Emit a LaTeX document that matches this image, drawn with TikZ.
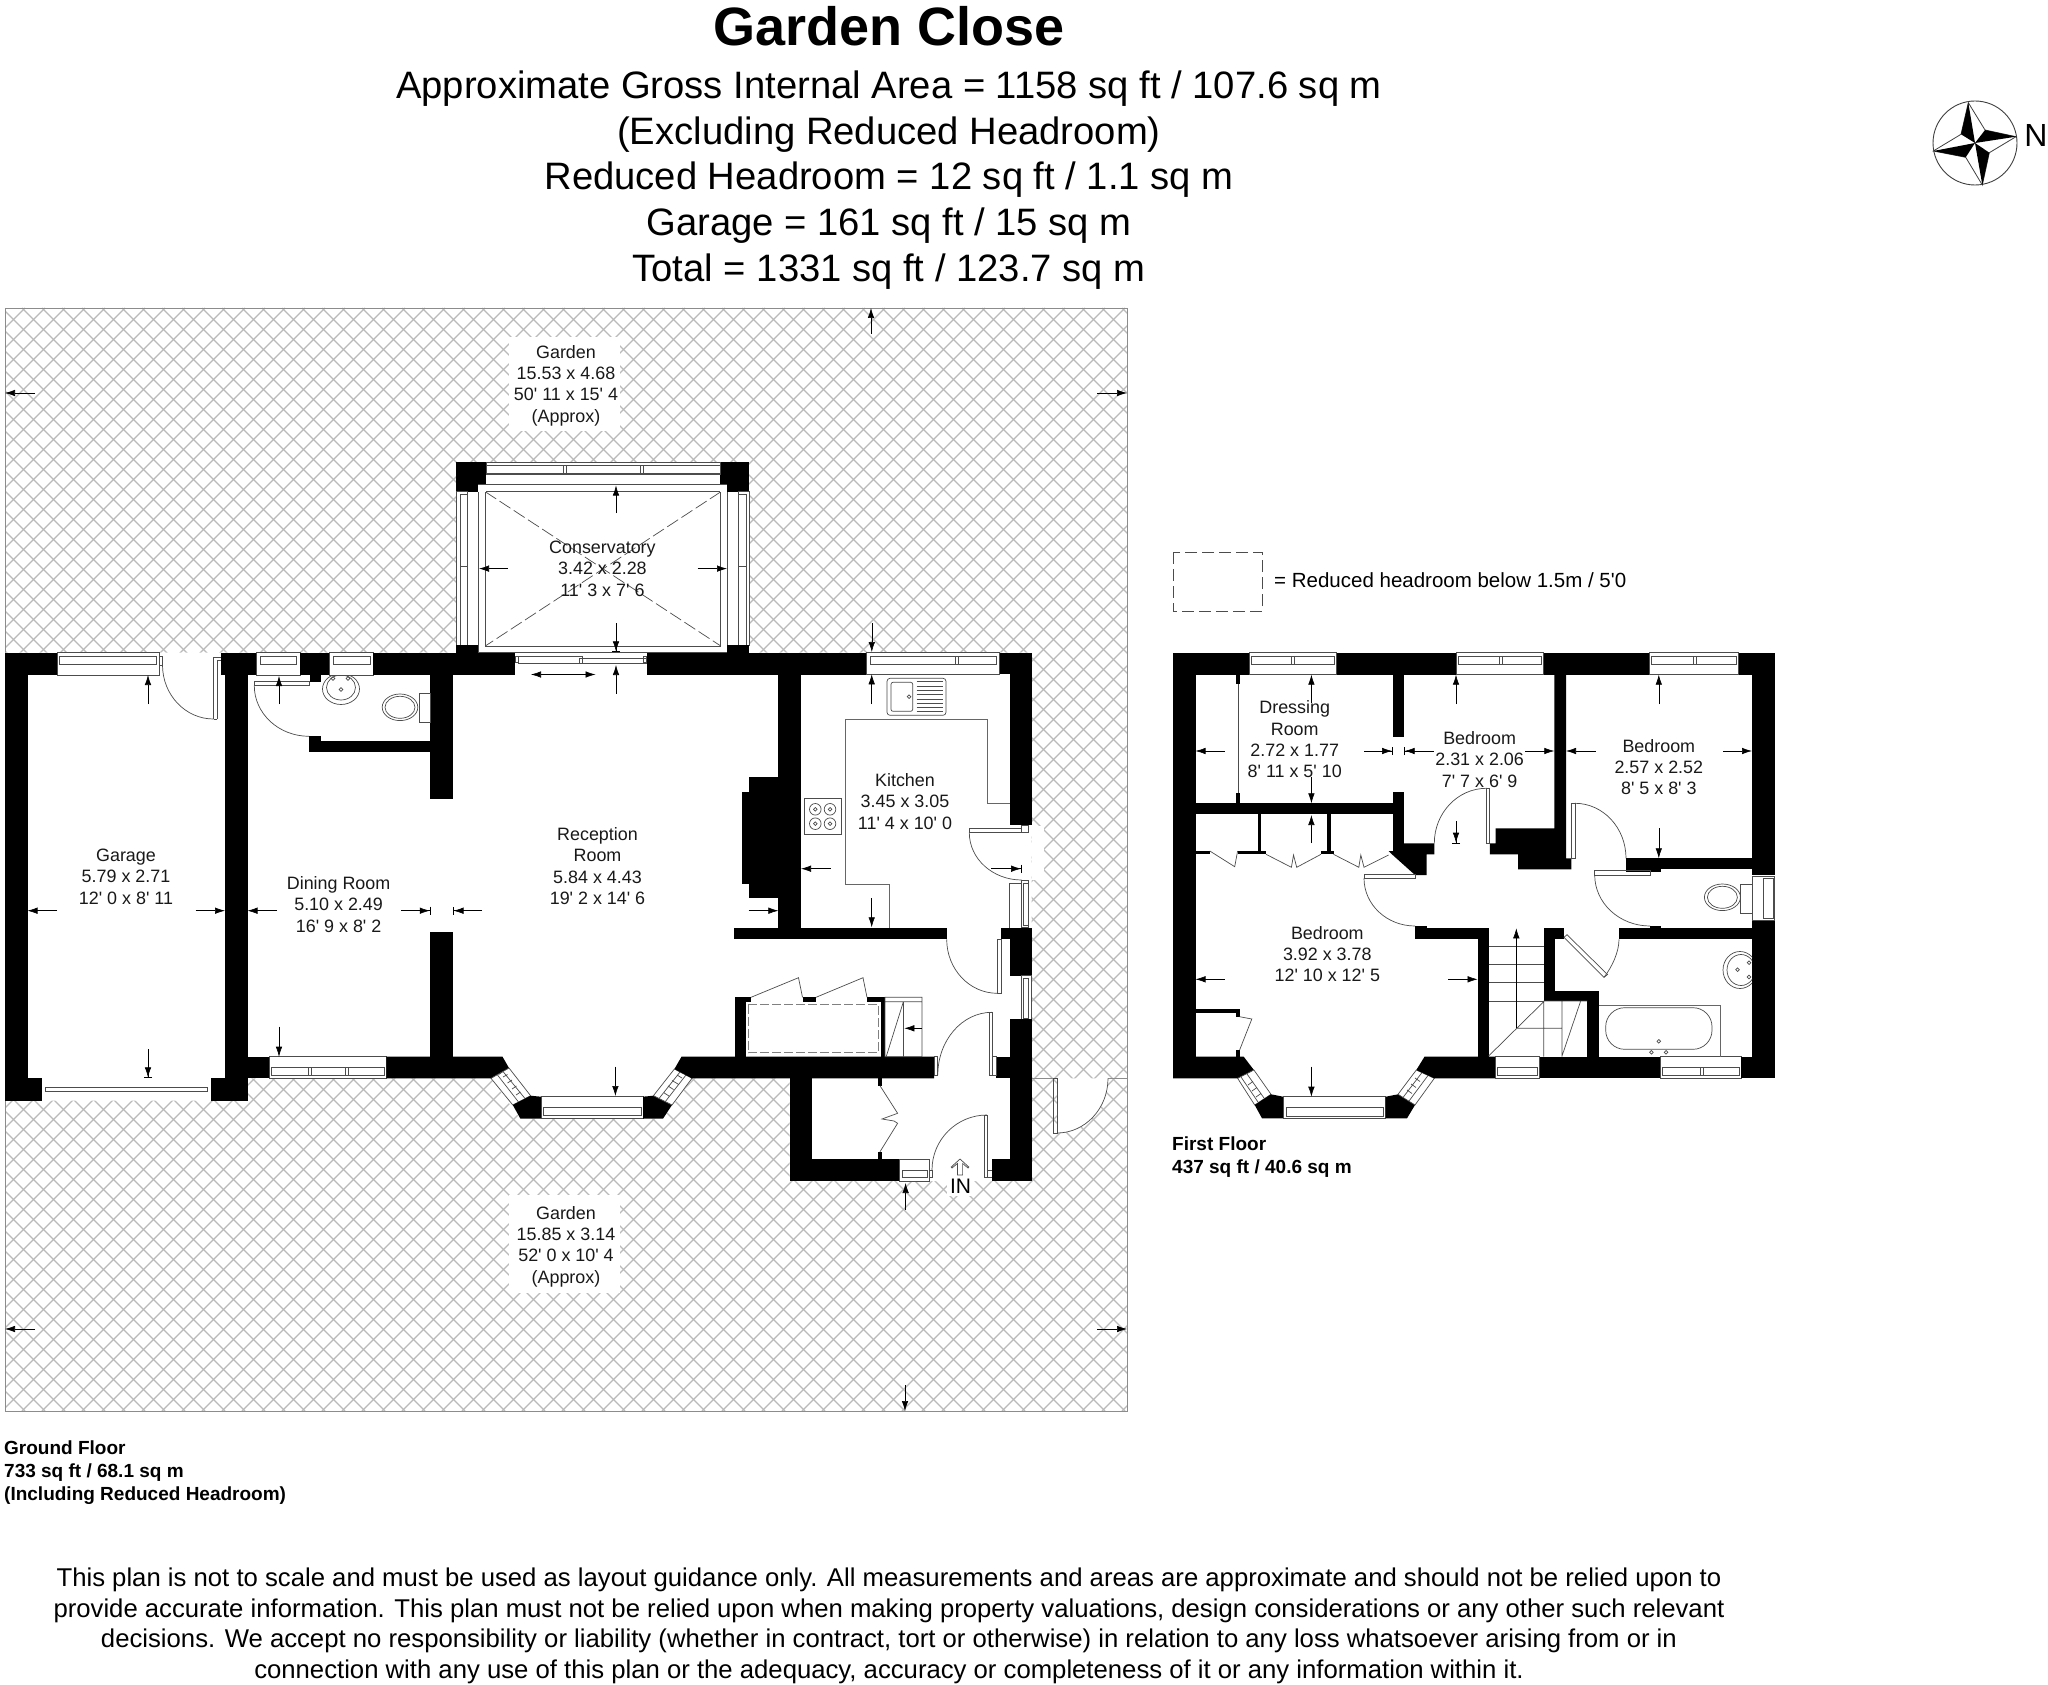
\documentclass[tikz,border=0pt]{standalone}
\usepackage{fontspec}
\usetikzlibrary{arrows.meta,calc}
\newfontfamily\planfont{Liberation Sans}
\newcommand{\qa}[4]{(#1,#2) .. controls ($(#1,#2)!0.5523!(#1,#4)$) and ($(#3,#4)!0.5523!(#1,#4)$) .. (#3,#4)}
\tikzset{
 wall/.style={fill=black,draw=none},
 fine/.style={draw=black!70,line width=0.7pt},
 work/.style={draw=black!60,line width=0.8pt},
 hatchline/.style={draw=black!27,line width=1.2pt},
 dimarrow/.style={draw=black,line width=0.6pt,-{Latex[length=10pt,width=6.5pt]}},
 dimbar/.style={draw=black,line width=0.6pt,-{Latex[length=10pt,width=6.5pt]Bar[width=8pt,line width=0.6pt]}},
 lbl/.style={inner sep=0pt,align=center,font=\planfont\fontsize{17.9}{21.3}\selectfont,text=black!90},
 head/.style={inner sep=0pt,align=center,font=\planfont\fontsize{38.2}{45}\selectfont},
 note/.style={inner sep=0pt,align=center,font=\planfont\fontsize{25.7}{30.6}\selectfont},
 captxt/.style={inner sep=0pt,align=left,font=\planfont\bfseries\fontsize{19}{23}\selectfont},
}
\begin{document}
\begin{tikzpicture}[x=1pt,y=-1pt]
\useasboundingbox (0,0) rectangle (2048,1685);
\fill[white] (0,0) rectangle (2048,1685);
% garden hatch
\begin{scope}
\clip (5,308) rectangle (1127,1411);
\foreach \c in {313,333,...,2540}{\draw[hatchline] ({\c-308},308) -- ({\c-1411},1411);}
\foreach \c in {-1406,-1386,...,820}{\draw[hatchline] ({\c+308},308) -- ({\c+1411},1411);}
\end{scope}
\draw[draw=black!45,line width=0.9pt] (5,308) rectangle (1127,1411);
% white knock-outs
\fill[white] (509,337) rectangle (620,431);
\fill[white] (509,1195) rectangle (620,1293);
\fill[white] (947,1181) rectangle (974,1196);
\fill[white] (5.4,652.7) -- (1031.7,652.7) -- (1031.7,1181) -- (789.5,1181) -- (789.5,1078.3) -- (692,1078.3) -- (663,1118.7) -- (520.4,1118.7) -- (491,1078.3) -- (247.5,1078.3) -- (247.5,1100.7) -- (5.4,1100.7) -- cycle;
\fill[white] (456,462) rectangle (749.4,652.7);
\fill[white] (1031.7,826) rectangle (1044,880);
\draw[draw=black!45,line width=0.8pt] (1031.7,1078.3) -- (1053.8,1078.3) (1108,1078.3) -- (1127,1078.3);
% ===== GROUND FLOOR =====
% conservatory
\draw[fine] (478.4,484.6) rectangle (727,652.5);
\draw[fine] (485.3,491.8) rectangle (720.8,646);
\draw[fine,dash pattern=on 13pt off 4pt,draw=black!70] (485.3,491.8) -- (720.8,646);
\draw[fine,dash pattern=on 13pt off 4pt,draw=black!70] (720.8,491.8) -- (485.3,646);
\fill[wall] (456,462) rectangle (486,491.8);
\fill[wall] (720,462) rectangle (749.4,491.8);
\fill[white] (478.4,484.6) rectangle (486,491.8);
\fill[white] (720,484.6) rectangle (727,491.8);
\draw[fine] (478.4,484.6) -- (727,484.6);
\draw[fine] (486,462) rectangle (720,474);
\draw[fine] (486,465.7) rectangle (720,472.9);
\draw[fine] (563.7,465.7) -- (563.7,472.9) (566.2,465.7) -- (566.2,472.9) (640.4,465.7) -- (640.4,472.9) (643.3,465.7) -- (643.3,472.9);
\draw[fine] (456,491.8) rectangle (467,645.4);
\draw[fine] (460,494) rectangle (467,645.4) (460,566.8) -- (467,566.8);
\draw[fine] (738.4,491.8) rectangle (749.4,645.4);
\draw[fine] (738.4,494) rectangle (746.5,645.4) (738.4,566.8) -- (746.5,566.8);
\fill[wall] (456,645.4) rectangle (478.4,653);
\fill[wall] (727,645.4) rectangle (749.4,653);
% garage
\fill[wall] (5.4,652.7) rectangle (27.5,1100.7);
\fill[wall] (5.4,652.7) rectangle (57,675);
\fill[wall] (27.5,1078.3) rectangle (42,1100.7);
\fill[wall] (210.7,1078.3) rectangle (247.5,1100.7);
\fill[wall] (225,652.7) rectangle (247.5,1100.7);
\fill[wall] (221.4,652.7) rectangle (256.4,675);
\draw[fine] (45,1087) rectangle (207,1091.7);
\draw[fine] (57,652.7) rectangle (159.6,675);
\draw[fine] (59,656) rectangle (156,664);
\draw[fine] (159.6,656) rectangle (162.5,665);
\draw[fine] (213.5,719) -- (213.5,657) -- (221,657) (217,719) -- (217,660) -- (221,660) (213.5,719) -- (217,719);
\draw[fine] \qa{162.5}{665}{213.5}{719};
% WC
\draw[fine] (256.4,652.7) rectangle (300,675);
\draw[fine] (260.7,656) rectangle (296,664);
\draw[fine] (329.3,652.7) rectangle (373.2,675);
\draw[fine] (333,656) rectangle (370,664);
\fill[wall] (300,652.7) rectangle (329.3,675);
\fill[wall] (309.6,675) rectangle (320.7,681.7);
\fill[wall] (373.2,652.7) rectangle (515.4,675);
\fill[wall] (430.4,675) rectangle (452.9,799.3);
\fill[wall] (430.4,931.7) rectangle (452.9,1056.7);
\fill[wall] (309,740.7) rectangle (430.4,752.3);
\fill[wall] (309,736.3) rectangle (320.7,752.3);
\draw[fine] (254.3,681.7) rectangle (309.6,685.7);
\draw[fine] \qa{254.3}{685.7}{309}{736.3};
\begin{scope}
\clip (320,675) rectangle (362,710);
\draw[fine] (341,689) ellipse (18.5 and 15.5);
\draw[fine] (341,687.5) ellipse (14.5 and 12.5);
\end{scope}
\draw[fine] (333,678.5) circle (1.8) (348,678.5) circle (1.8) (341,689.5) circle (1.8);
\draw[fine] (400,707.3) ellipse (17.8 and 13.3);
\draw[fine] (400,707.3) ellipse (15 and 11);
\draw[fine] (419.6,693) rectangle (430.4,722.7);
% dining bottom, bay
\fill[wall] (247.5,1056.7) rectangle (269,1078.3);
\draw[fine] (269,1056.7) rectangle (386.4,1078.3);
\draw[fine] (271,1067.7) rectangle (384,1075);
\draw[fine] (308,1067.7) -- (308,1075) (311.5,1067.7) -- (311.5,1075) (345,1067.7) -- (345,1075) (348,1067.7) -- (348,1075);
\fill[wall] (386.4,1056.7) -- (502.5,1056.7) -- (509,1068) -- (491,1078.3) -- (386.4,1078.3) -- cycle;
\draw[fine] (509,1068) -- (530.6,1095.7) -- (512.8,1105) -- (491,1078.3) -- cycle;
\draw[fine] (503,1071.5) -- (525,1098.5) (497.5,1075) -- (518.5,1102) (499,1074.3) -- (503,1071.5) (503,1077) -- (507.5,1074.5) (507.5,1083) -- (512,1080) (512,1089) -- (516.5,1086) (516,1095) -- (520.5,1092);
\fill[wall] (530.6,1095.7) -- (541,1096.7) -- (541,1118.7) -- (520.4,1118.7) -- (512.8,1105) -- cycle;
\draw[fine] (541,1096.7) rectangle (643,1118.7);
\draw[fine] (543.6,1107.7) rectangle (641,1115);
\fill[wall] (643,1096.7) -- (653.4,1095.7) -- (672,1105) -- (663,1118.7) -- (643,1118.7) -- cycle;
\draw[fine] (653.4,1095.7) -- (674.4,1069) -- (692,1078.3) -- (672,1105) -- cycle;
\draw[fine] (659,1098.5) -- (680,1072) (665,1102) -- (686,1075) (663.5,1092.5) -- (669,1096) (668,1086) -- (673.5,1089.5) (672,1080.5) -- (678,1084) (677,1075) -- (682,1078);
\fill[wall] (674.4,1069) -- (681.5,1056.7) -- (934,1056.7) -- (934,1078.3) -- (692,1078.3) -- cycle;
% patio door
\draw[fine] (515.4,656) rectangle (518,662.7);
\draw[fine] (518,656) rectangle (582.4,663);
\draw[fine] (579,658) rectangle (646,663.8);
\draw[fine] (643,656) rectangle (646.5,662.7);
\fill[wall] (646.5,652.7) rectangle (867,675);
\draw[fine] (515.4,652.6) -- (646.5,652.6);
% kitchen
\fill[wall] (778.3,675) rectangle (801,928.3);
\fill[wall] (749.3,777.3) rectangle (778.3,898.3);
\fill[wall] (742.3,792.3) rectangle (749.3,884.3);
\fill[wall] (734.3,927.7) rectangle (946.7,939.3);
\fill[wall] (999,652.7) rectangle (1031.7,674.3);
\fill[wall] (1010,652.7) rectangle (1031.7,825);
\draw[fine] (866.7,652.7) rectangle (999,674.3);
\draw[fine] (870,656.7) rectangle (996.7,664.3);
\draw[fine] (955,656.7) -- (955,664.3) (958,656.7) -- (958,664.3);
\draw[work] (1010,803.3) -- (987.7,803.3) -- (987.7,719) -- (845,719) -- (845,884) -- (889,884) -- (889,927.7);
\draw[fine,rounded corners=3pt] (887,678.3) rectangle (946,715.3);
\draw[fine,rounded corners=2pt] (891,682.3) rectangle (912.7,711.3);
\draw[fine] (909,696.7) circle (1.8);
\foreach \y in {681.7,686,690.3,694.6,698.9,703.2,707.5,711.7}{\draw[fine] (916.7,\y) -- (942.7,\y);}
\draw[fine] (804.3,798.3) rectangle (841.7,834.7);
\foreach \px/\py in {815.3/809.3,830/809.3,815.3/823.7,830/823.7}{\draw[fine] (\px,\py) circle (5.8) (\px,\py) circle (1.8);}
% back door & side windows
\draw[fine] (969.3,828.7) rectangle (1021.7,832.7);
\draw[fine] (1021.7,825) rectangle (1028.3,832.7);
\draw[fine] \qa{969.3}{832.7}{1021.7}{880};
\draw[fine] (1009.3,883) -- (1021,883) (1009.3,883) -- (1009.3,927.7);
\draw[fine] (1021,880) rectangle (1028.3,927.7);
\draw[fine] (1023,883) rectangle (1028.3,925.7);
\fill[wall] (1001,928.3) rectangle (1031.7,939.3);
\fill[wall] (1010,928.3) rectangle (1031.7,975.7);
\draw[fine] (1021,975.7) rectangle (1031.7,1019.3);
\draw[fine] (1023,978) rectangle (1028.3,1018);
\fill[wall] (1010,1019.3) rectangle (1031.7,1181);
\draw[fine] (997.3,939.3) rectangle (1001,993.3);
\draw[fine] \qa{946.7}{939.3}{997.3}{993.3};
\fill[wall] (996,1056.7) rectangle (1010,1078.3);
\draw[fine] (992.7,1056.7) rectangle (996,1075.7);
\draw[fine] (989,1012.3) rectangle (992.7,1075.7);
\draw[fine] \qa{937.8}{1075}{992}{1012.3};
\draw[fine] (934,1056.7) rectangle (937.8,1075);
% cupboard
\fill[wall] (734.6,997.3) rectangle (745.8,1056.7);
\fill[wall] (734.6,997.3) rectangle (751,1001.7);
\fill[wall] (802.5,997.3) rectangle (816,1001.7);
\fill[wall] (867,997.3) rectangle (885,1001.7);
\fill[wall] (881,997.3) rectangle (885,1056.7);
\draw[draw=black!50,line width=1pt,dash pattern=on 9pt off 3pt] (748,1004.7) rectangle (878.4,1052.7);
\draw[fine] (751,997.3) -- (798.5,977.7) -- (802.5,997.3) (816,997.3) -- (863,977.7) -- (867,997.3);
\draw[fine] (885,997.3) rectangle (922,1056.7) (885,1001.7) -- (922,1001.7) (903.4,1001.7) -- (903.4,1056.7) (886.4,1056) -- (903.4,1001.7);
% porch
\fill[wall] (789.5,1078.3) rectangle (812,1181);
\fill[wall] (789.5,1159) rectangle (899.8,1181);
\fill[wall] (877.5,1078.3) rectangle (882,1085.7);
\fill[wall] (877.5,1151.7) rectangle (882,1159);
\draw[fine] (880,1085.7) -- (897.6,1113.3) -- (882,1119) -- (894,1121) -- (897.6,1123.3) -- (880,1151.7);
\draw[fine] (899.8,1159) rectangle (929.7,1181);
\draw[fine] (902,1170) rectangle (927,1177);
\draw[fine] (929.7,1170) -- (932,1170) -- (932,1177) -- (929.7,1177);
\draw[fine] (984.6,1115) rectangle (987.8,1177.3);
\draw[fine] (987.8,1170) -- (992,1170) (987.8,1177) -- (992,1177);
\draw[fine] \qa{932}{1170}{987}{1115};
\fill[wall] (992,1159) rectangle (1010,1181);
% garden door
\fill[white] (1057,1078.3) -- (1108,1078.3) .. controls (1108,1108) and (1085,1133) .. (1057,1133) -- cycle;
\draw[fine] (1053.8,1078.3) rectangle (1057,1133);
\draw[fine] \qa{1108}{1078.3}{1057}{1133};
% IN arrow
\draw[fine,draw=black!70] (957.4,1175) -- (957.4,1163.5) -- (952,1168) -- (951.2,1167) -- (960,1159) -- (968.8,1167) -- (968,1168) -- (962.6,1163.5) -- (962.6,1175) -- cycle;
% ===== FIRST FLOOR =====
\fill[wall] (1173,652.7) rectangle (1195.5,1078.3);
\fill[wall] (1173,652.7) rectangle (1249,674.7);
\fill[wall] (1336.7,652.7) rectangle (1456,674.7);
\fill[wall] (1543.7,652.7) rectangle (1649.8,674.7);
\fill[wall] (1738,652.7) rectangle (1774.7,674.7);
\fill[wall] (1752,652.7) rectangle (1774.7,875);
\fill[wall] (1752,920) rectangle (1774.7,1078.3);
\foreach \a/\b/\m in {1249/1336.7/1291.4,1456/1543.7/1499.6,1649.8/1738/1693.5}{
 \draw[fine] (\a,652.7) rectangle (\b,674.7);
 \draw[fine] (\a+2,656.7) rectangle (\b-2,664);
 \draw[fine] (\m,656.7) -- (\m,664) (\m+3,656.7) -- (\m+3,664);
}
\fill[wall] (1392.7,674.7) rectangle (1404,737.3);
\fill[wall] (1392.7,792.3) rectangle (1404,851);
\fill[wall] (1495.5,828.3) -- (1554.3,828.3) -- (1554.3,674.7) -- (1566,674.7) -- (1566,858.3) -- (1571.4,858.3) -- (1571.4,869.3) -- (1518,869.3) -- (1518,854.3) -- (1489.8,854.3) -- (1489.8,843.3) -- (1495.5,843.3) -- cycle;
\draw[fine] (1486.5,788.3) rectangle (1489.8,843.3);
\draw[fine] \qa{1434.3}{843.3}{1486.5}{788.3};
\draw[fine] (1571.4,803.3) rectangle (1575,858.3);
\draw[fine] \qa{1626}{858.3}{1575}{803.3};
\fill[wall] (1626,858.3) rectangle (1752,869.3);
\fill[wall] (1626,869.3) rectangle (1661,871.7);
\draw[fine] (1594.7,870.7) rectangle (1650,875);
\draw[fine] \qa{1594.7}{875}{1650}{926};
\fill[wall] (1619,928.3) rectangle (1752,939.3);
\fill[wall] (1650,926) rectangle (1661,928.3);
\fill[wall] (1415,928.3) rectangle (1488.6,939.3);
\fill[wall] (1415,926) rectangle (1426.5,939.3);
\fill[wall] (1543.7,928.3) rectangle (1564,939.3);
\fill[wall] (1543.7,928.3) rectangle (1555,1001);
\fill[wall] (1543.7,990.7) rectangle (1598.8,1001);
\fill[wall] (1587.3,990.7) rectangle (1598.8,1056.7);
\fill[wall] (1477.6,928.3) rectangle (1488.6,1056.7);
% bottom wall and bay
\fill[wall] (1195.5,1056.7) -- (1243.7,1056.7) -- (1253.9,1070) -- (1237.6,1078.3) -- (1173,1078.3) -- (1173,1056.7) -- cycle;
\draw[fine] (1253.9,1070) -- (1271,1094.3) -- (1254.7,1105) -- (1237.6,1078.3) -- cycle;
\draw[fine] (1247,1074) -- (1264,1098) (1241,1077) -- (1258,1102) (1248,1085) -- (1253,1081.5) (1252,1091) -- (1257,1087.5) (1256,1097) -- (1261,1093.5);
\fill[wall] (1271,1094.3) -- (1283.3,1096.7) -- (1283.3,1118.3) -- (1262,1118.3) -- (1254.7,1105) -- cycle;
\draw[fine] (1283.3,1096.7) rectangle (1385.7,1118.3);
\draw[fine] (1286,1107.7) rectangle (1383,1116);
\fill[wall] (1385.7,1096.7) -- (1398,1094.3) -- (1415,1105) -- (1407,1118.3) -- (1385.7,1118.3) -- cycle;
\draw[fine] (1398,1094.3) -- (1416.3,1070) -- (1434.3,1078.3) -- (1415,1105) -- cycle;
\draw[fine] (1403,1097.5) -- (1422,1072.5) (1409,1101) -- (1428,1075.5) (1407,1090) -- (1412,1093.5) (1411,1084) -- (1416,1087.5) (1415,1078) -- (1420,1081.5);
\fill[wall] (1416.3,1070) -- (1424.5,1056.7) -- (1495.5,1056.7) -- (1495.5,1078.3) -- (1434.3,1078.3) -- cycle;
\draw[fine] (1495.5,1056.7) rectangle (1539.6,1078.3);
\draw[fine] (1497.5,1067) rectangle (1537.5,1075);
\fill[wall] (1539.6,1056.7) rectangle (1660.8,1078.3);
\draw[fine] (1660.8,1056.7) rectangle (1741,1078.3);
\draw[fine] (1662.8,1067) rectangle (1739,1075);
\draw[fine] (1700.8,1067) -- (1700.8,1075) (1703.5,1067) -- (1703.5,1075);
\fill[wall] (1741,1056.7) rectangle (1774.7,1078.3);
% dressing room, wardrobes
\fill[wall] (1195.5,803.3) rectangle (1392.7,814.3);
\fill[wall] (1235.5,674.7) rectangle (1239.6,684);
\fill[wall] (1235.5,793.3) rectangle (1239.6,803.3);
\draw[fine] (1238.8,684) -- (1238.8,793.3);
\fill[wall] (1258,814.3) rectangle (1261,851.7);
\fill[wall] (1327.3,814.3) rectangle (1331.4,851.7);
\fill[wall] (1195.5,851) rectangle (1209.8,854.3);
\fill[wall] (1237.6,851) rectangle (1266,854.3);
\fill[wall] (1321,851) rectangle (1333.5,854.3);
\fill[wall] (1404,843.3) -- (1434.3,843.3) -- (1434.3,854.3) -- (1426.5,854.3) -- (1426.5,875) -- (1415,875) -- (1392.7,855) -- (1388.6,851) -- (1404,851) -- cycle;
\draw[fine] (1209.8,851) -- (1234.7,866.7) -- (1237.6,851);
\draw[fine] (1266,854.3) -- (1291.4,867.3) -- (1293.5,855) -- (1296.7,867.3) -- (1321,854.3);
\draw[fine] (1333.5,854.3) -- (1358.8,867.3) -- (1360.8,855) -- (1364,867.3) -- (1388.6,855);
\draw[fine] (1364,874.3) rectangle (1415,878.3);
\draw[fine] \qa{1364}{878.3}{1415}{926};
% closet
\fill[wall] (1195.5,1009) rectangle (1239.6,1012.7);
\fill[wall] (1235.5,1009) rectangle (1239.6,1016.7);
\fill[wall] (1235.5,1050) rectangle (1239.6,1056.7);
\draw[fine] (1239.6,1016.7) -- (1251.8,1019) -- (1239.6,1050);
% stairs
\foreach \y in {946,964.3,982.7,1001}{\draw[fine] (1488.6,\y) -- (1543.7,\y);}
\draw[fine] (1543.7,1001) -- (1587.3,1001) (1517,1028.3) -- (1562,1028.3) (1543.7,1001) -- (1543.7,1056.7) (1562,1001) -- (1562,1056.7) (1488.6,1056) -- (1543.7,1001.7) (1562,1056) -- (1580.4,1001.7);
% bathroom
\draw[fine] (1564,937.3) -- (1604,977.3) -- (1607.5,974.5) -- (1567,934.7) -- cycle;
\draw[fine] (1604,977.3) .. controls (1612,967) and (1619,952) .. (1619,939.3);
\draw[work] (1598.8,1005) -- (1720,1005) -- (1720,1056.7);
\draw[fine,rounded corners=19pt] (1605.7,1007.7) rectangle (1712,1049.3);
\draw[fine] (1658.8,1041.3) circle (1.8) (1651.4,1052.3) circle (1.8) (1666,1052.3) circle (1.8);
\begin{scope}
\clip (1720,945) rectangle (1752,995);
\draw[fine] (1740,970) ellipse (17 and 18.5);
\draw[fine] (1741,970) ellipse (14 and 15.5);
\end{scope}
\draw[fine] (1749,962.7) circle (1.8) (1749,977) circle (1.8) (1737.5,969.7) circle (1.8);
\draw[fine] (1722.4,897.3) ellipse (18 and 13.3);
\draw[fine] (1722.4,897.3) ellipse (15 and 11);
\draw[fine] (1740.8,884) rectangle (1752,913.3);
\draw[fine] (1752,876) rectangle (1774.7,920);
\draw[fine] (1763.3,878) rectangle (1773.5,918);
% legend
\draw[draw=black!70,line width=0.8pt,dash pattern=on 12pt off 5pt] (1173,552) rectangle (1262,611);
% compass
\draw[draw=black!75,line width=0.9pt] (1975,143) circle (42);
\draw[draw=black!75,line width=0.8pt,fill=white] (1968.3,102.7) -- (1985,130) -- (2016,136.7) -- (1989.3,152.7) -- (1982.3,185) -- (1965.7,157.3) -- (1933.3,151) -- (1961,134.3) -- cycle;
\fill[black] (1968.3,102.7) -- (1961,134.3) -- (1975,143) -- cycle;
\fill[black] (2016,136.7) -- (1985,130) -- (1975,143) -- cycle;
\fill[black] (1982.3,185) -- (1989.3,152.7) -- (1975,143) -- cycle;
\fill[black] (1933.3,151) -- (1965.7,157.3) -- (1975,143) -- cycle;
% ===== DIMENSION ARROWS =====
\foreach \ta/\tb/\pa/\pb in {
 871/334/871/308, 35/393/5/393, 1097/393/1127/393, 871.8/623/871.8/652,
 35/1329/5/1329, 1097/1329/1127/1329, 905/1385/905/1411, 905.6/1210/905.6/1183,
 148/704/148/675, 57/910.7/27.5/910.7, 195.7/910.7/225/910.7,
 277/910.7/247.5/910.7, 279/704/279/676, 279/1026.7/279/1056.7,
 616/693.6/616/665, 748.6/910.7/778.4/910.7, 615.4/1066.7/615.4/1096,
 871.7/704/871.7/674.3, 871.7/898.3/871.7/927.3, 830.7/868.7/801/868.7,
 922/1028.3/904.3/1028.3,
 616/513/616/485.5, 507.8/568.6/479/568.6, 697.6/568.6/727/568.6,
 1311.4/703/1311.4/674.7, 1311.4/776.7/1311.4/803.3, 1224.5/751/1195.5/751,
 1525/751/1554.3/751, 1456/704/1456/674.7,
 1595.5/751/1566/751, 1723.3/751/1752/751, 1658.8/704/1658.8/674.7, 1658.8/828.3/1658.8/858.3,
 1224.5/979.3/1195.5/979.3, 1448/979.3/1477.6/979.3, 1311.4/843/1311.4/815,
 1311.4/1066.7/1311.4/1096.7, 1516.3/1028.3/1516.3/928.3}{
 \draw[dimarrow] (\ta,\tb) -- (\pa,\pb);
}
\foreach \ta/\tb/\pa/\pb in {
 148/1049/148/1078, 401/910.7/430.4/910.7, 482/910.7/452.9/910.7,
 991/868.7/1021.7/868.7, 616/623/616/652, 1364/751/1392.7/751, 1433.5/751/1404/751, 1456/821/1456/843.3}{
 \draw[dimbar] (\ta,\tb) -- (\pa,\pb);
}
\draw[draw=black,line width=0.6pt,{Latex[length=10pt,width=6.5pt]}-{Latex[length=10pt,width=6.5pt]}] (531,674.5) -- (595.5,674.5);
% ===== TEXT =====
\node[inner sep=0pt,font=\planfont\bfseries\fontsize{54}{60}\selectfont] (title) at (889,26) {Garden Close};
\node[head] (h1) at (889,89) {Approximate Gross Internal Area = 1158 sq ft / 107.6 sq m};
\node[head] (h2) at (889,134.6) {(Excluding Reduced Headroom)};
\node[head] (h3) at (889,180) {Reduced Headroom = 12 sq ft / 1.1 sq m};
\node[head] (h4) at (889,226) {Garage = 161 sq ft / 15 sq m};
\node[head] (h5) at (889,272) {Total = 1331 sq ft / 123.7 sq m};
\node[inner sep=0pt,font=\planfont\fontsize{32}{32}\selectfont] (north) at (2036,135) {N};
\node[inner sep=0pt,anchor=west,font=\planfont\fontsize{20.5}{24}\selectfont] (legend) at (1274,580.5) {= Reduced headroom below 1.5m / 5'0};
\node[lbl] (gardentop) at (566,385.5) {Garden\\15.53 x 4.68\\50' 11 x 15' 4\\(Approx)};
\node[lbl] (gardenbot) at (566,1246.5) {Garden\\15.85 x 3.14\\52' 0 x 10' 4\\(Approx)};
\node[lbl] (conserv) at (602.4,568.6) {Conservatory\\3.42 x 2.28\\11' 3 x 7' 6};
\node[lbl] (garage) at (126,876.7) {Garage\\5.79 x 2.71\\12' 0 x 8' 11};
\node[lbl] (dining) at (338.6,904.3) {Dining Room\\5.10 x 2.49\\16' 9 x 8' 2};
\node[lbl] (reception) at (597.5,866) {Reception\\Room\\5.84 x 4.43\\19' 2 x 14' 6};
\node[lbl] (kitchen) at (905,801.3) {Kitchen\\3.45 x 3.05\\11' 4 x 10' 0};
\node[lbl] (dressing) at (1294.7,739.5) {Dressing\\Room\\2.72 x 1.77\\8' 11 x 5' 10};
\node[lbl] (bed1) at (1479.6,759.3) {Bedroom\\2.31 x 2.06\\7' 7 x 6' 9};
\node[lbl] (bed2) at (1658.8,767) {Bedroom\\2.57 x 2.52\\8' 5 x 8' 3};
\node[lbl] (bed3) at (1327.3,954) {Bedroom\\3.92 x 3.78\\12' 10 x 12' 5};
\node[inner sep=0pt,font=\planfont\fontsize{21}{24}\selectfont] (inlabel) at (960.5,1186) {IN};
\node[captxt,anchor=north west] (gfcap) at (4,1441) {Ground Floor\\733 sq ft / 68.1 sq m\\(Including Reduced Headroom)};
\node[captxt,anchor=north west] (ffcap) at (1172,1137) {First Floor\\437 sq ft / 40.6 sq m};
\node[note] (disclaimer) at (889,1626) {This plan is not to scale and must be used as layout guidance only. All measurements and areas are approximate and should not be relied upon to\\provide accurate information. This plan must not be relied upon when making property valuations, design considerations or any other such relevant\\decisions. We accept no responsibility or liability (whether in contract, tort or otherwise) in relation to any loss whatsoever arising from or in\\connection with any use of this plan or the adequacy, accuracy or completeness of it or any information within it.};
\end{tikzpicture}
\end{document}
